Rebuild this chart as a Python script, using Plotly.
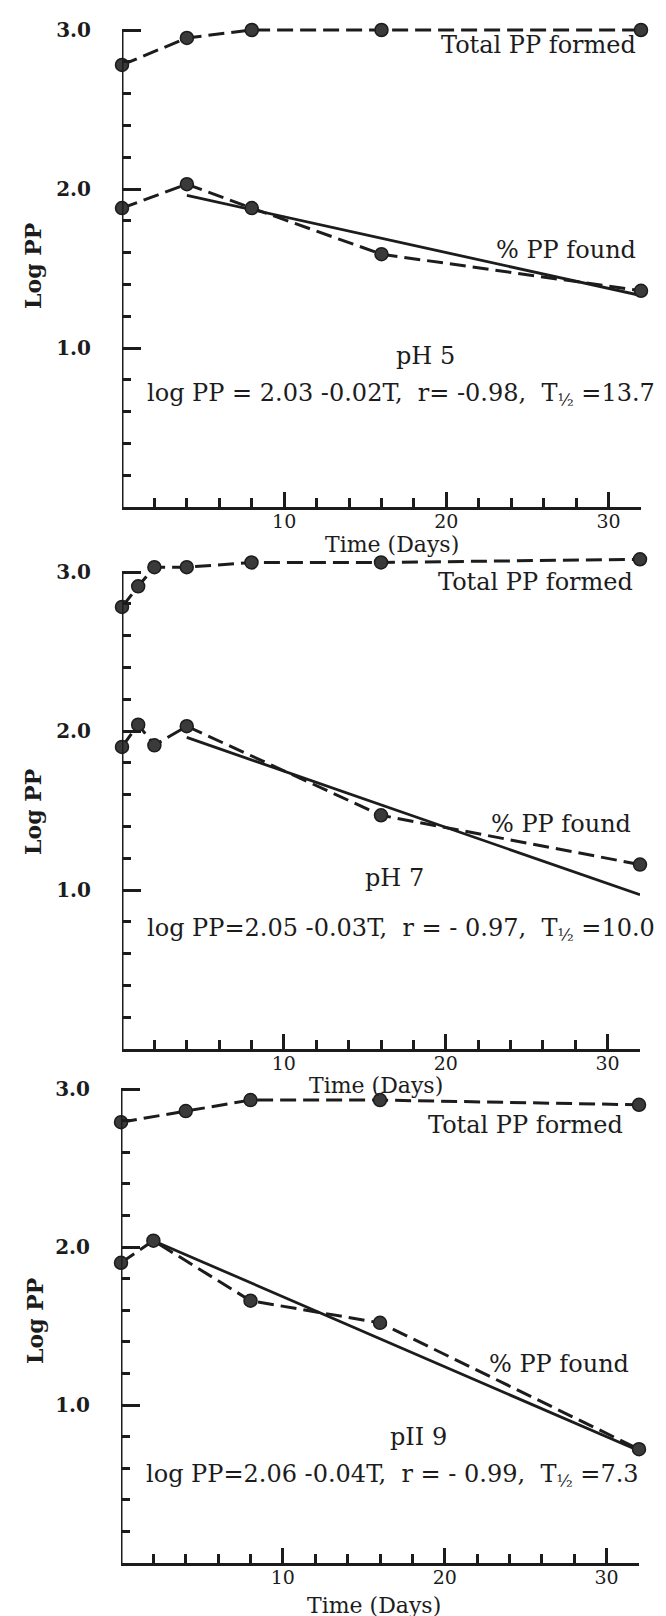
import plotly.graph_objects as go

# ---------------- data ----------------
days_ph5_total = [0, 4, 8, 16, 32]
logpp_ph5_total = [2.78, 2.95, 3.00, 3.00, 3.00]
days_ph5_found = [0, 4, 8, 16, 32]
logpp_ph5_found = [1.88, 2.03, 1.88, 1.59, 1.36]
days_ph5_fit = [4, 32]
logpp_ph5_fit = [1.96, 1.33]

days_ph7_total = [0, 1, 2, 4, 8, 16, 32]
logpp_ph7_total = [2.78, 2.91, 3.03, 3.03, 3.06, 3.06, 3.08]
days_ph7_found = [0, 1, 2, 4, 16, 32]
logpp_ph7_found = [1.90, 2.04, 1.91, 2.03, 1.47, 1.16]
days_ph7_fit = [4, 32]
logpp_ph7_fit = [1.96, 0.97]

days_ph9_total = [0, 4, 8, 16, 32]
logpp_ph9_total = [2.79, 2.86, 2.93, 2.93, 2.90]
days_ph9_found = [0, 2, 8, 16, 32]
logpp_ph9_found = [1.90, 2.04, 1.66, 1.52, 0.72]
days_ph9_fit = [2, 32]
logpp_ph9_fit = [2.04, 0.71]

ph_labels = ["pH 5", "pH 7", "pII 9"]
equations = [
    "log PP = 2.03 -0.02T,  r= -0.98,  T<sub>½</sub> =13.7",
    "log PP=2.05 -0.03T,  r = - 0.97,  T<sub>½</sub> =10.0",
    "log PP=2.06 -0.04T,  r = - 0.99,  T<sub>½</sub> =7.3",
]
series_labels = ["Total PP formed", "% PP found"]
y_tick_vals = [1, 2, 3]
y_tick_text = ["1.0", "2.0", "3.0"]
x_tick_vals = [10, 20, 30]
x_tick_text = ["10", "20", "30"]
x_title = "Time (Days)"
y_title = "Log PP"

# ---------------- layout geometry (pixels) ----------------
W, H = 666, 1616
YTOP = 3.12
geom = [
    dict(x0=114, x1=633, y0=499, y3=22),
    dict(x0=114, x1=632, y0=1041, y3=564),
    dict(x0=113, x1=631, y0=1555, y3=1081),
]
ann_pos = [
    dict(total=(630, 37), found=(630, 242), ph=(418, 348), eq=(137, 386), ytitle=(25, 258), xtitle=(384, 536)),
    dict(total=(627, 574), found=(625, 816), ph=(386, 870), eq=(137, 922), ytitle=(25, 804), xtitle=(368, 1077)),
    dict(total=(617, 1117), found=(623, 1356), ph=(410, 1429), eq=(136, 1467), ytitle=(27, 1313), xtitle=(366, 1597)),
]

INK = "#1c1c1c"
FONT = "DejaVu Serif"
DASH = "16px,7px"


def px(x, y):
    return x / W, 1 - y / H


panels = [
    (days_ph5_total, logpp_ph5_total, days_ph5_found, logpp_ph5_found, days_ph5_fit, logpp_ph5_fit),
    (days_ph7_total, logpp_ph7_total, days_ph7_found, logpp_ph7_found, days_ph7_fit, logpp_ph7_fit),
    (days_ph9_total, logpp_ph9_total, days_ph9_found, logpp_ph9_found, days_ph9_fit, logpp_ph9_fit),
]

fig = go.Figure()
layout = dict(
    width=W, height=H,
    margin=dict(l=0, r=0, t=0, b=0),
    paper_bgcolor="white",
    plot_bgcolor="rgba(0,0,0,0)",
    showlegend=False,
    font=dict(family=FONT, color=INK),
)
annotations = []
shapes = []

for i, (tx, ty, fx, fy, lx, ly) in enumerate(panels):
    n = "" if i == 0 else str(i + 1)
    xa, ya = "x" + n, "y" + n
    g = geom[i]
    u = (g["y0"] - g["y3"]) / 3.0
    ytop_px = g["y0"] - YTOP * u
    xdom = [g["x0"] / W, g["x1"] / W]
    ydom = [1 - g["y0"] / H, 1 - ytop_px / H]

    marker = dict(size=13, color="#3a3a3a", line=dict(width=1.5, color=INK))
    fig.add_trace(go.Scatter(x=tx, y=ty, mode="lines+markers", xaxis=xa, yaxis=ya,
                             line=dict(color=INK, width=3, dash=DASH), marker=marker, cliponaxis=False))
    fig.add_trace(go.Scatter(x=lx, y=ly, mode="lines", xaxis=xa, yaxis=ya,
                             line=dict(color=INK, width=2.8), cliponaxis=False))
    fig.add_trace(go.Scatter(x=fx, y=fy, mode="lines+markers", xaxis=xa, yaxis=ya,
                             line=dict(color=INK, width=3, dash=DASH), marker=marker, cliponaxis=False))

    layout["xaxis" + n] = dict(
        domain=xdom, anchor=ya, range=[0, 32], showgrid=False, zeroline=False,
        showline=True, linewidth=3, linecolor=INK,
        tickmode="array", tickvals=x_tick_vals, ticktext=x_tick_text,
        ticks="inside", ticklen=15, tickwidth=2.5, tickcolor=INK,
        tickfont=dict(family=FONT, size=19, color=INK),
        ticklabelstandoff=-5,
        minor=dict(ticks="inside", ticklen=9, tickwidth=2.5, tickcolor=INK, dtick=2, tick0=0, showgrid=False),
    )
    layout["yaxis" + n] = dict(
        domain=ydom, anchor=xa, range=[0, YTOP], showgrid=False, zeroline=False,
        showline=False,
        tickmode="array", tickvals=y_tick_vals, ticktext=y_tick_text,
        ticks="inside", ticklen=19, tickwidth=2.5, tickcolor=INK,
        tickfont=dict(family=FONT, size=20, color=INK, weight="bold"),
        ticklabelstandoff=30,
        minor=dict(ticks="inside", ticklen=9, tickwidth=2.5, tickcolor=INK, dtick=0.2, tick0=0, showgrid=False),
    )
    # y axis line from 0 to 3.0
    shapes.append(dict(type="line", xref=xa, yref=ya, x0=0, x1=0, y0=0, y1=3.0,
                       line=dict(color=INK, width=3)))

    p = ann_pos[i]

    def add(text, pos, xanchor="center", size=24, bold=False, angle=0):
        x, y = px(*pos)
        annotations.append(dict(text=text, x=x, y=y, xref="paper", yref="paper",
                                xanchor=xanchor, yanchor="middle", showarrow=False, textangle=angle,
                                font=dict(family=FONT, size=size, color=INK, weight="bold" if bold else "normal")))

    add(series_labels[0], p["total"], xanchor="right")
    add(series_labels[1], p["found"], xanchor="right")
    add(ph_labels[i], p["ph"])
    add(equations[i], p["eq"], xanchor="left")
    add(y_title, p["ytitle"], size=22, bold=True, angle=-90)
    add(x_title, p["xtitle"], size=22)

layout["annotations"] = annotations
layout["shapes"] = shapes
fig.update_layout(**layout)
fig.write_html("out.html")
